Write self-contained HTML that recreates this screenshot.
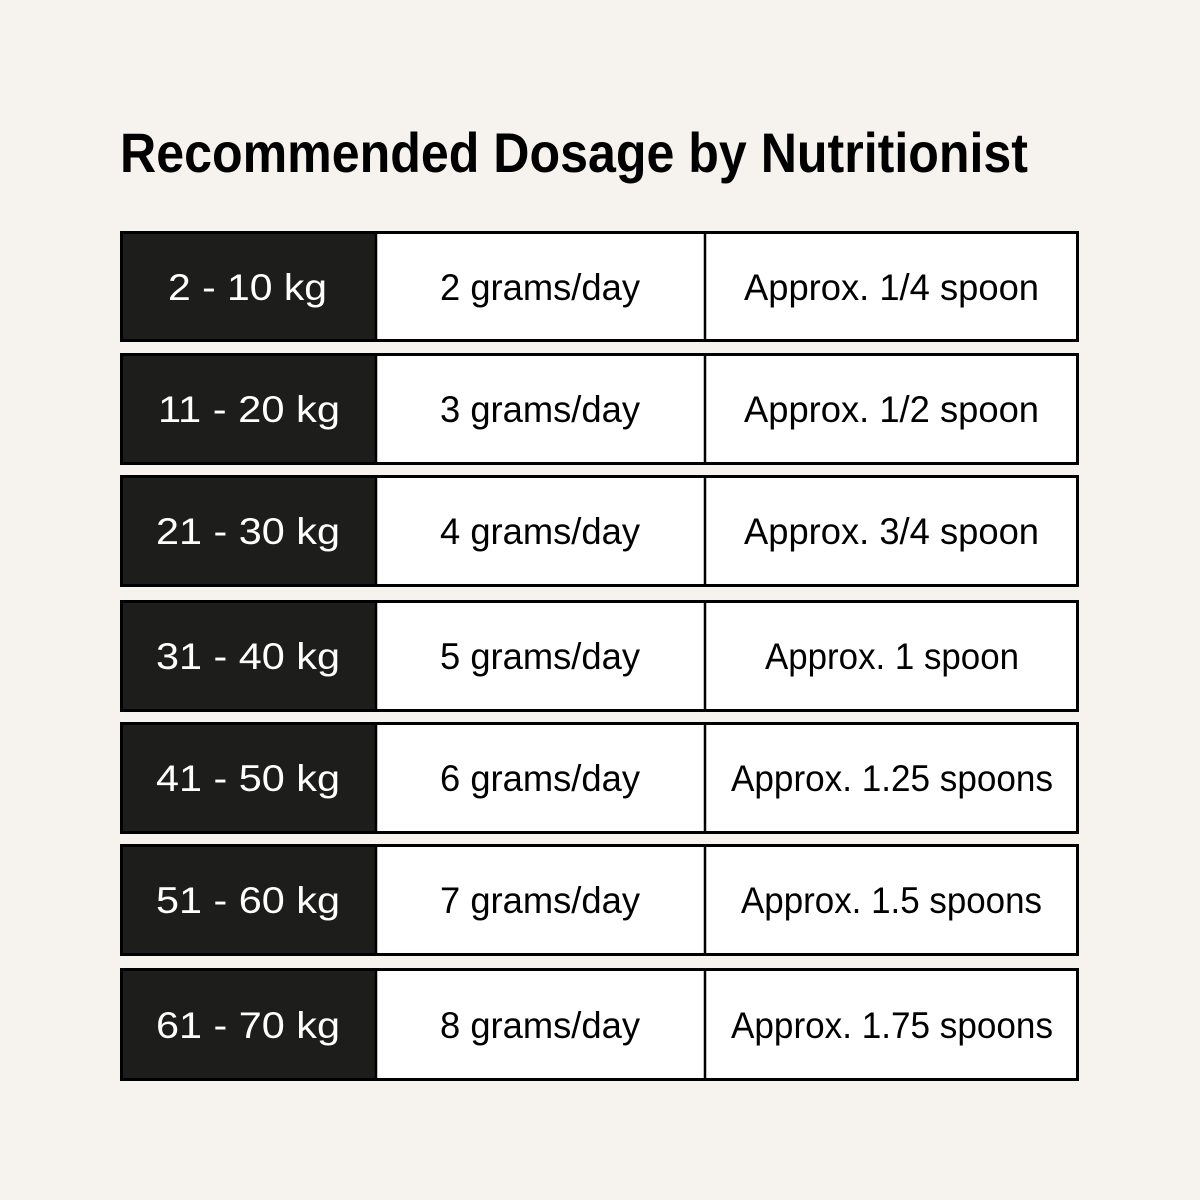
<!DOCTYPE html>
<html><head><meta charset="utf-8"><style>
html,body{margin:0;padding:0;background:#f6f3ee;}
svg{display:block}
text{font-family:"Liberation Sans",sans-serif;}
</style></head><body>
<svg width="1200" height="1200" viewBox="0 0 1200 1200" xmlns="http://www.w3.org/2000/svg">
<rect width="1200" height="1200" fill="#f6f3ee"/>
<text x="120" y="172" font-size="56" font-weight="bold" fill="#000" textLength="908" lengthAdjust="spacingAndGlyphs">Recommended Dosage by Nutritionist</text>
<g stroke="#000" stroke-width="3">
<rect x="121.5" y="232.5" width="956" height="108" fill="#fff"/>
<rect x="121.5" y="354.5" width="956" height="109" fill="#fff"/>
<rect x="121.5" y="476.5" width="956" height="109" fill="#fff"/>
<rect x="121.5" y="601.5" width="956" height="109" fill="#fff"/>
<rect x="121.5" y="723.5" width="956" height="109" fill="#fff"/>
<rect x="121.5" y="845.5" width="956" height="109" fill="#fff"/>
<rect x="121.5" y="969.5" width="956" height="110" fill="#fff"/>
</g>
<g fill="#1d1d1b">
<rect x="123" y="234" width="252" height="105"/>
<rect x="123" y="356" width="252" height="106"/>
<rect x="123" y="478" width="252" height="106"/>
<rect x="123" y="603" width="252" height="106"/>
<rect x="123" y="725" width="252" height="106"/>
<rect x="123" y="847" width="252" height="106"/>
<rect x="123" y="971" width="252" height="107"/>
</g>
<g stroke="#000" stroke-width="2.5">
<line x1="376" y1="231" x2="376" y2="342"/><line x1="705" y1="231" x2="705" y2="342"/>
<line x1="376" y1="353" x2="376" y2="465"/><line x1="705" y1="353" x2="705" y2="465"/>
<line x1="376" y1="475" x2="376" y2="587"/><line x1="705" y1="475" x2="705" y2="587"/>
<line x1="376" y1="600" x2="376" y2="712"/><line x1="705" y1="600" x2="705" y2="712"/>
<line x1="376" y1="722" x2="376" y2="834"/><line x1="705" y1="722" x2="705" y2="834"/>
<line x1="376" y1="844" x2="376" y2="956"/><line x1="705" y1="844" x2="705" y2="956"/>
<line x1="376" y1="968" x2="376" y2="1081"/><line x1="705" y1="968" x2="705" y2="1081"/>
</g>
<g font-size="37">
<text x="168" y="300" fill="#fff" textLength="159" lengthAdjust="spacingAndGlyphs">2 - 10 kg</text>
<text x="158" y="422" fill="#fff" textLength="182" lengthAdjust="spacingAndGlyphs">11 - 20 kg</text>
<text x="156" y="544" fill="#fff" textLength="184" lengthAdjust="spacingAndGlyphs">21 - 30 kg</text>
<text x="156" y="669" fill="#fff" textLength="184" lengthAdjust="spacingAndGlyphs">31 - 40 kg</text>
<text x="156" y="791" fill="#fff" textLength="184" lengthAdjust="spacingAndGlyphs">41 - 50 kg</text>
<text x="156" y="913" fill="#fff" textLength="184" lengthAdjust="spacingAndGlyphs">51 - 60 kg</text>
<text x="156" y="1038" fill="#fff" textLength="184" lengthAdjust="spacingAndGlyphs">61 - 70 kg</text>

<text x="440" y="300" fill="#000" textLength="200" lengthAdjust="spacingAndGlyphs">2 grams/day</text>
<text x="440" y="422" fill="#000" textLength="200" lengthAdjust="spacingAndGlyphs">3 grams/day</text>
<text x="440" y="544" fill="#000" textLength="200" lengthAdjust="spacingAndGlyphs">4 grams/day</text>
<text x="440" y="669" fill="#000" textLength="200" lengthAdjust="spacingAndGlyphs">5 grams/day</text>
<text x="440" y="791" fill="#000" textLength="200" lengthAdjust="spacingAndGlyphs">6 grams/day</text>
<text x="440" y="913" fill="#000" textLength="200" lengthAdjust="spacingAndGlyphs">7 grams/day</text>
<text x="440" y="1038" fill="#000" textLength="200" lengthAdjust="spacingAndGlyphs">8 grams/day</text>

<text x="744" y="300" fill="#000" textLength="295" lengthAdjust="spacingAndGlyphs">Approx. 1/4 spoon</text>
<text x="744" y="422" fill="#000" textLength="295" lengthAdjust="spacingAndGlyphs">Approx. 1/2 spoon</text>
<text x="744" y="544" fill="#000" textLength="295" lengthAdjust="spacingAndGlyphs">Approx. 3/4 spoon</text>
<text x="765" y="669" fill="#000" textLength="254" lengthAdjust="spacingAndGlyphs">Approx. 1 spoon</text>
<text x="731" y="791" fill="#000" textLength="322" lengthAdjust="spacingAndGlyphs">Approx. 1.25 spoons</text>
<text x="741" y="913" fill="#000" textLength="301" lengthAdjust="spacingAndGlyphs">Approx. 1.5 spoons</text>
<text x="731" y="1038" fill="#000" textLength="322" lengthAdjust="spacingAndGlyphs">Approx. 1.75 spoons</text>
</g>
</svg>
</body></html>
